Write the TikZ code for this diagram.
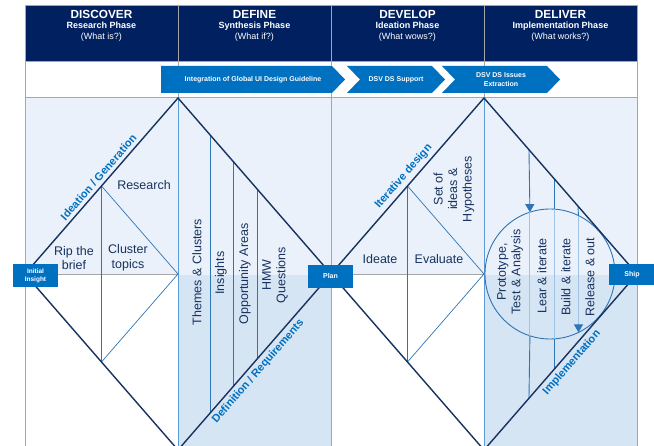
\documentclass[tikz,border=0pt]{standalone}
\usepackage{fontspec}
\setmainfont{Liberation Sans}
\usetikzlibrary{arrows.meta}
\usetikzlibrary{calc}
\definecolor{navy}{HTML}{002060}
\definecolor{bblue}{HTML}{0070C0}
\definecolor{edge}{HTML}{17325F}
\definecolor{mline}{HTML}{2E75B6}
\definecolor{lline}{HTML}{9DC3E6}
\definecolor{cline}{HTML}{5B9BD5}
\definecolor{pale}{HTML}{EAF1FA}
\definecolor{band}{HTML}{D6E5F4}
\definecolor{rule}{HTML}{A6A6A6}
\tikzset{
	phase/.style={text=white,inner sep=0,anchor=base,font=\bfseries\fontsize{11.8}{12}\selectfont},
	phasesub/.style={text=white,inner sep=0,anchor=base,font=\bfseries\fontsize{9}{10}\selectfont},
	phaseq/.style={text=white,inner sep=0,anchor=base,font=\fontsize{9}{10}\selectfont},
	bannertext/.style={text=white,align=center,inner sep=0,font=\bfseries\fontsize{7}{9.5}\selectfont},
	steplabel/.style={text=edge,align=center,inner sep=0,font=\fontsize{12.5}{14.5}\selectfont},
	vlabel/.style={steplabel,rotate=90},
	edgelabel/.style={text=bblue,sloped,inner sep=3.5,font=\bfseries\fontsize{11}{12}\selectfont},
	gate/.style={fill=bblue,text=white,align=center,minimum width=45,minimum height=23,inner sep=0,font=\bfseries\fontsize{6.5}{8}\selectfont},
}
\newcommand{\drawphase}[5]{
	\node (#2) at (#1,18.3) [phase] {#3};
	\node (#2sub) at (#1,28.7) [phasesub] {#4};
	\node (#2q) at (#1,39.3) [phaseq] {#5};
}
\newcommand{\drawbanner}[5]{
	\fill[bblue] (#1,66) -- (#2,66) -- (#2+13,79.5) -- (#2,93) -- (#1,93) -- (#1+#3,79.5) -- cycle;
	\node (#4) at ({(#1+#2+13)/2},79.5) [bannertext] {#5};
}
\newcommand{\drawdiamond}[2]{
	\coordinate (#2) at (#1,274);
	\coordinate (#2t) at (#1,98);
	\coordinate (#2b) at (#1,450);
	\coordinate (#2l) at ($(#2)-(153,0)$);
	\coordinate (#2r) at ($(#2)+(153,0)$);
	\coordinate (#2ul) at ($(#2t)!0.5!(#2l)$);
	\coordinate (#2dl) at ($(#2b)!0.5!(#2l)$);
	\draw[rule] (#2l) -- (#2);
	\draw[cline] (#2t) -- (#2b);
	\draw[mline,line width=0.7] (#2ul) -- (#2dl) (#2ul) -- (#2) -- (#2dl);
}

\begin{document}
\begin{tikzpicture}[x=1pt,y=-1pt,line width=0.9]
	\useasboundingbox (0,0) rectangle (654,446);
	\clip (0,0) rectangle (654,446);
	\fill[pale] (25,97) rectangle (637,275);
	\fill[band] (178,275) rectangle (331,450);
	\fill[band] (484,275) rectangle (637,450);
	\fill[navy] (25,5) rectangle (637,61);
	\draw[rule] (25,5) rectangle (637,460);
	\draw[rule] (25,61) -- (637,61) (25,97) -- (637,97);
	\foreach \x in {178,331,484} \draw[rule] (\x,5) -- (\x,460);
	\drawphase{101.5}{discover}{DISCOVER}{Research Phase}{(What is?)}
	\drawphase{254.5}{define}{DEFINE}{Synthesis Phase}{(What if?)}
	\drawphase{407.5}{develop}{DEVELOP}{Ideation Phase}{(What wows?)}
	\drawphase{560.5}{deliver}{DELIVER}{Implementation Phase}{(What works?)}
	\drawbanner{161}{332}{0}{guideline}{Integration of Global UI Design Guideline}
	\drawbanner{347}{432}{13}{support}{DSV DS Support}
	\drawbanner{442}{547}{13}{issues}{DSV DS Issues\\Extraction}
	\drawdiamond{178}{d1}
	\drawdiamond{484}{d2}
	\foreach \t in {0.21,0.36,0.52}
		\draw[mline] ($(d1t)!\t!(d1r)$) -- ($(d1b)!\t!(d1r)$);
	\node (loop) at (550,274) [circle,draw=mline,minimum size=130,inner sep=0,outer sep=0] {};
	\foreach \t [count=\i] in {0.294,0.458,0.614} {
		\coordinate (up\i) at ($(d2t)!\t!(d2r)$);
		\coordinate (dn\i) at ($(d2b)!\t!(d2r)$);
	}
	\draw[mline,-{Triangle[width=9pt,length=8pt]}] (up1) -- (loop.108.85);
	\draw[lline] (loop.108.85) -- (loop.-108.85);
	\draw[mline] (loop.-108.85) -- (dn1);
	\draw[mline] (up2) -- (dn2);
	\draw[lline] (loop.86.47) -- (loop.-86.47);
	\draw[mline] (up3) -- (loop.64.49);
	\draw[lline,-{Triangle[width=9pt,length=8pt,color=mline]}] (loop.64.49) -- (loop.-64.49);
	\foreach \n in {d1,d2}
		\draw[edge,line width=1.4] (\n l) -- (\n t) -- (\n r) -- (\n b) -- cycle;
	\node (research) at (144,185) [steplabel] {Research};
	\node (ripbrief) at (74,258) [steplabel] {Rip the\\brief};
	\node (clustertopics) at (128,258) [steplabel] {Cluster\\topics};
	\node (themes) at (197,272) [vlabel] {Themes \& Clusters};
	\node (insights) at (221,273) [vlabel] {Insights};
	\node (opportunity) at (245,274) [vlabel] {Opportunity Areas};
	\node (hmw) at (275,275) [vlabel] {HMW\\Questions};
	\node (ideate) at (380,259) [steplabel] {Ideate};
	\node (evaluate) at (439,259) [steplabel] {Evaluate};
	\node (hypotheses) at (454,189) [vlabel] {Set of\\ideas \&\\Hypotheses};
	\node (prototype) at (510,272) [vlabel] {Prototype,\\Test \& Analysis};
	\node (learn) at (542,276) [vlabel] {Lear \& iterate};
	\node (build) at (566,277) [vlabel] {Build \& iterate};
	\node (release) at (590,277) [vlabel] {Release \& out};
	\path (d1l) -- (d1t) node (ideation) [edgelabel,pos=0.52,above] {Ideation / Generation};
	\path (d1b) -- (d1r) node (definition) [edgelabel,pos=0.48,below] {Definition / Requirements};
	\path (d2l) -- (d2t) node (iterative) [edgelabel,pos=0.52,above] {Iterative design};
	\path (d2b) -- (d2r) node (implementation) [edgelabel,pos=0.53,below] {Implementation};
	\node (initial) at (35.5,275.5) [gate] {Initial\\Insight};
	\node (plan) at (330.5,276.5) [gate,font=\bfseries\fontsize{7}{8}\selectfont] {Plan};
	\node (ship) at (632,275) [gate,minimum width=47,minimum height=21,font=\bfseries\fontsize{7}{8}\selectfont] {Ship};
\end{tikzpicture}
\end{document}
